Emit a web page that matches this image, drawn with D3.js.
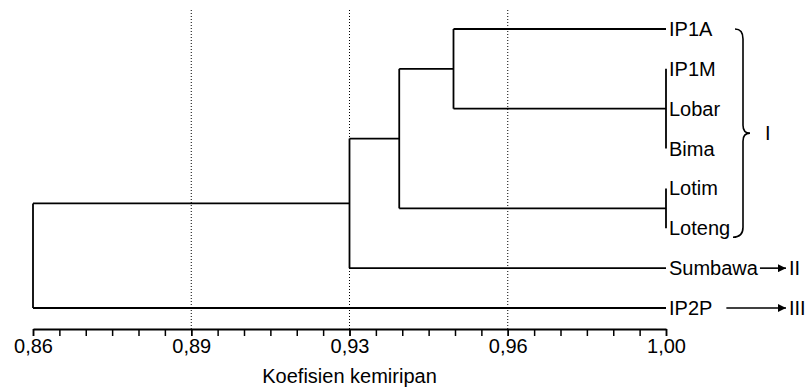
<!DOCTYPE html>
<html>
<head>
<meta charset="utf-8">
<script src="https://cdn.jsdelivr.net/npm/d3@7"></script>
<style>
  body { margin: 0; background: #fff; }
  svg { display: block; font-family: "Liberation Sans", Arial, sans-serif; }
</style>
</head>
<body>
<div id="chart"></div>
<script>
// leaves top to bottom
const leaves = ["IP1A", "IP1M", "Lobar", "Bima", "Lotim", "Loteng", "Sumbawa", "IP2P"];
// merges (linkage)
const clusterNames = ["c1", "c2", "c3", "c4", "c5", "root"];
const clusterChildren = [
  ["IP1M", "Lobar", "Bima"],
  ["Lotim", "Loteng"],
  ["IP1A", "c1"],
  ["c3", "c2"],
  ["c4", "Sumbawa"],
  ["c5", "IP2P"]
];
const clusterSimilarity = [1.0, 1.0, 0.953, 0.941, 0.93, 0.86];
const majorTicks = [0.86, 0.895, 0.93, 0.965, 1.0];
const tickLabels = ["0,86", "0,89", "0,93", "0,96", "1,00"];
const gridTicks = [0.895, 0.93, 0.965];
const groupNames = ["I", "II", "III"];

const w = 808, h = 387;
const fontSize = 20;

const svg = d3.select("#chart").append("svg")
  .attr("width", w)
  .attr("height", h);

const x = d3.scaleLinear().domain([0.86, 1.0]).range([33, 666]);
const y = d3.scalePoint().domain(leaves).range([29, 308]);
const axisY = 329;

// build tree from linkage arrays
function build(name) {
  const i = clusterNames.indexOf(name);
  if (i < 0) return { name: name, sim: 1.0 };
  return { name: name, sim: clusterSimilarity[i], children: clusterChildren[i].map(build) };
}
const root = d3.hierarchy(build("root"));
root.eachAfter(d => {
  d.px = x(d.data.sim);
  d.py = d.children ? d3.mean(d.children, c => c.py) : y(d.data.name);
});

// dotted grid
svg.append("g").selectAll("line")
  .data(gridTicks)
  .join("line")
  .attr("x1", d => x(d)).attr("x2", d => x(d))
  .attr("y1", 10).attr("y2", axisY)
  .attr("stroke", "#000")
  .attr("stroke-width", 1)
  .attr("stroke-dasharray", "1,2");

// dendrogram
const g = svg.append("g")
  .attr("fill", "none")
  .attr("stroke", "#000")
  .attr("stroke-width", 1.8);

g.selectAll("line.h")
  .data(root.descendants().filter(d => d.parent))
  .join("line")
  .attr("class", "h")
  .attr("x1", d => d.parent.px).attr("x2", d => d.px)
  .attr("y1", d => d.py).attr("y2", d => d.py);

g.selectAll("line.v")
  .data(root.descendants().filter(d => d.children))
  .join("line")
  .attr("class", "v")
  .attr("x1", d => d.px).attr("x2", d => d.px)
  .attr("y1", d => d3.min(d.children, c => c.py))
  .attr("y2", d => d3.max(d.children, c => c.py));

// leaf labels
const labels = svg.append("g").selectAll("text")
  .data(leaves)
  .join("text")
  .attr("x", x(1.0) + 3)
  .attr("y", d => y(d))
  .attr("dy", "0.35em")
  .attr("font-size", fontSize)
  .attr("fill", "#000")
  .text(d => d);

// axis
const minorTicks = d3.range(0, 25).map(i => 0.86 + i * 0.035 / 6);
svg.append("g")
  .attr("transform", `translate(0,${axisY})`)
  .call(d3.axisBottom(x).tickValues(minorTicks).tickSize(7).tickSizeOuter(0).tickFormat(""))
  .call(a => a.select(".domain").attr("stroke-width", 1.8))
  .call(a => a.selectAll(".tick line").attr("stroke-width", 1.5));

svg.append("g")
  .attr("transform", `translate(0,${axisY})`)
  .call(d3.axisBottom(x).tickValues(majorTicks).tickSize(7).tickPadding(3)
    .tickFormat((d, i) => tickLabels[i]))
  .call(a => a.select(".domain").remove())
  .call(a => a.selectAll(".tick line").attr("stroke-width", 1.5))
  .call(a => a.selectAll("text").attr("font-size", fontSize).attr("font-family", "Liberation Sans, Arial, sans-serif").attr("fill", "#000"));

svg.append("text")
  .attr("x", (x.range()[0] + x.range()[1]) / 2)
  .attr("y", 383)
  .attr("text-anchor", "middle")
  .attr("font-size", fontSize)
  .text("Koefisien kemiripan");

// group I brace
const bx = 743, braceTop = y("IP1A"), braceBot = y("Loteng") + 9, braceMid = (braceTop + braceBot) / 2;
svg.append("path")
  .attr("d", `M${bx - 8},${braceTop} Q${bx},${braceTop} ${bx},${braceTop + 10}
    L${bx},${braceMid - 8} Q${bx},${braceMid} ${bx + 7},${braceMid}
    Q${bx},${braceMid} ${bx},${braceMid + 8}
    L${bx},${braceBot - 10} Q${bx},${braceBot} ${bx - 10},${braceBot}`)
  .attr("fill", "none")
  .attr("stroke", "#000")
  .attr("stroke-width", 1.6);

svg.append("text")
  .attr("x", bx + 22)
  .attr("y", braceMid)
  .attr("dy", "0.35em")
  .attr("font-size", fontSize)
  .text(groupNames[0]);

// arrows to groups II and III
svg.append("defs").append("marker")
  .attr("id", "head")
  .attr("viewBox", "0 0 10 10")
  .attr("refX", 10).attr("refY", 5)
  .attr("markerWidth", 6).attr("markerHeight", 5)
  .attr("markerUnits", "strokeWidth")
  .attr("orient", "auto")
  .append("path").attr("d", "M0,0L10,5L0,10Z").attr("fill", "#000");

const arrowLeaves = ["Sumbawa", "IP2P"];
const arrowGap = [2, 14];
arrowLeaves.forEach((name, i) => {
  const t = labels.filter(d => d === name).node();
  const x0 = x(1.0) + 3 + t.getComputedTextLength() + arrowGap[i];
  svg.append("line")
    .attr("x1", x0).attr("x2", 786)
    .attr("y1", y(name)).attr("y2", y(name))
    .attr("stroke", "#000")
    .attr("stroke-width", 1.6)
    .attr("marker-end", "url(#head)");
  svg.append("text")
    .attr("x", 789)
    .attr("y", y(name))
    .attr("dy", "0.35em")
    .attr("font-size", fontSize)
    .text(groupNames[i + 1]);
});
</script>
</body>
</html>
